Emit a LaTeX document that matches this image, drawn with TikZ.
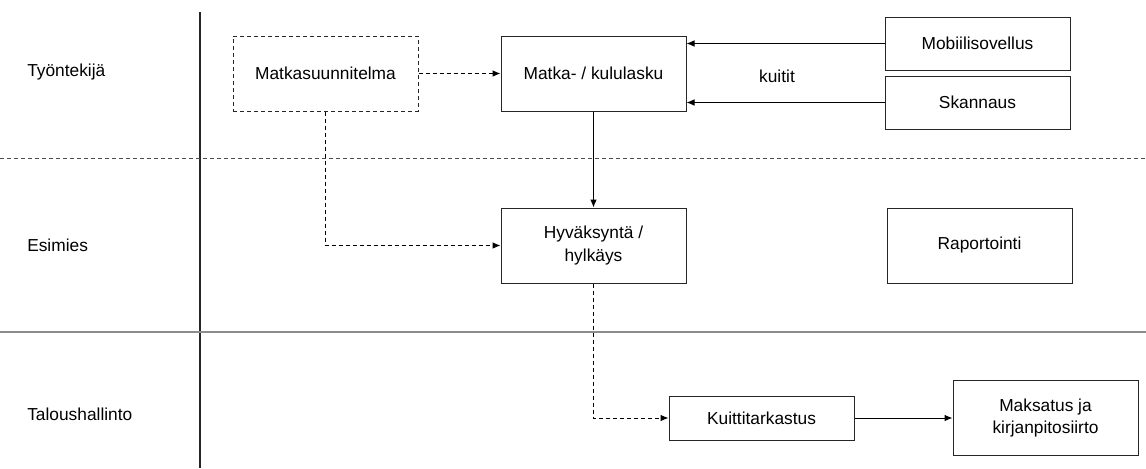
\documentclass[tikz,border=0pt]{standalone}
\usepackage{fontspec}
\setmainfont{Liberation Sans}
\usetikzlibrary{arrows.meta,positioning}

\begin{document}
\begin{tikzpicture}
[x=0.75pt, y=-0.75pt, font=\fontsize{13pt}{17pt}\selectfont,
>={Latex[length=6pt,width=5pt]},
% STYLES
plandash/.style={dash pattern=on 3pt off 2.25pt},
% Lane titles on the left
lane/.style={anchor=west, inner sep=0pt},
% Define styles for each kind of step
task/.style={rectangle, draw=black!85, line width=0.75pt, minimum width=138.75pt, minimum height=56.25pt, align=center, inner sep=2pt},
plan/.style={task, plandash},
source/.style={task, minimum height=39.75pt},
flow/.style={->, line width=0.75pt},
planflow/.style={flow, plandash}]

\useasboundingbox (0,0) rectangle (1146,468);

% Lanes
\draw[line width=1.5pt, black!85] (200,12) -- (200,468);
\draw[plandash, line width=0.75pt, black!70] (0,158) -- (1146,158);
\draw[line width=1.5pt, black!45] (0,332) -- (1146,332);

\node [lane] (tyontekija) at (27,72) {Työntekijä};
\node [lane] (esimies) at (27,245) {Esimies};
\node [lane] (talous) at (27,414) {Taloushallinto};

% Employee
\node [plan] (suunnitelma) at (325.5,73.5) {Matkasuunnitelma};
\node [task, right=61.5pt of suunnitelma] (kululasku) {Matka- / kululasku};
\node [source] (mobiili) at (977.5,43.5) {Mobiilisovellus};
\node [source, below=3.75pt of mobiili] (skannaus) {Skannaus};
\node (kuitit) at (777,76) {kuitit};

% Manager
\node [task, below=72pt of kululasku] (hyvaksynta) {Hyväksyntä /\\hylkäys};
\node [task, right=150pt of hyvaksynta] (raportointi) {Raportointi};

% Finance
\node [task, minimum height=33pt] (kuitti) at (761.5,418) {Kuittitarkastus};
\node [task, right=73.5pt of kuitti] (maksatus) {Maksatus ja\\kirjanpitosiirto};

%%%%%%%%%%%%%%%%

\draw[planflow] (suunnitelma) -- (kululasku);
\draw[flow] (mobiili.west) -- (mobiili.west -| kululasku.east);
\draw[flow] (skannaus.west) -- (skannaus.west -| kululasku.east);
\draw[flow] (kululasku) -- (hyvaksynta);
\draw[planflow] (suunnitelma) |- (hyvaksynta);
\draw[planflow] (hyvaksynta) |- (kuitti);
\draw[flow] (kuitti) -- (maksatus);

\end{tikzpicture}
\end{document}
